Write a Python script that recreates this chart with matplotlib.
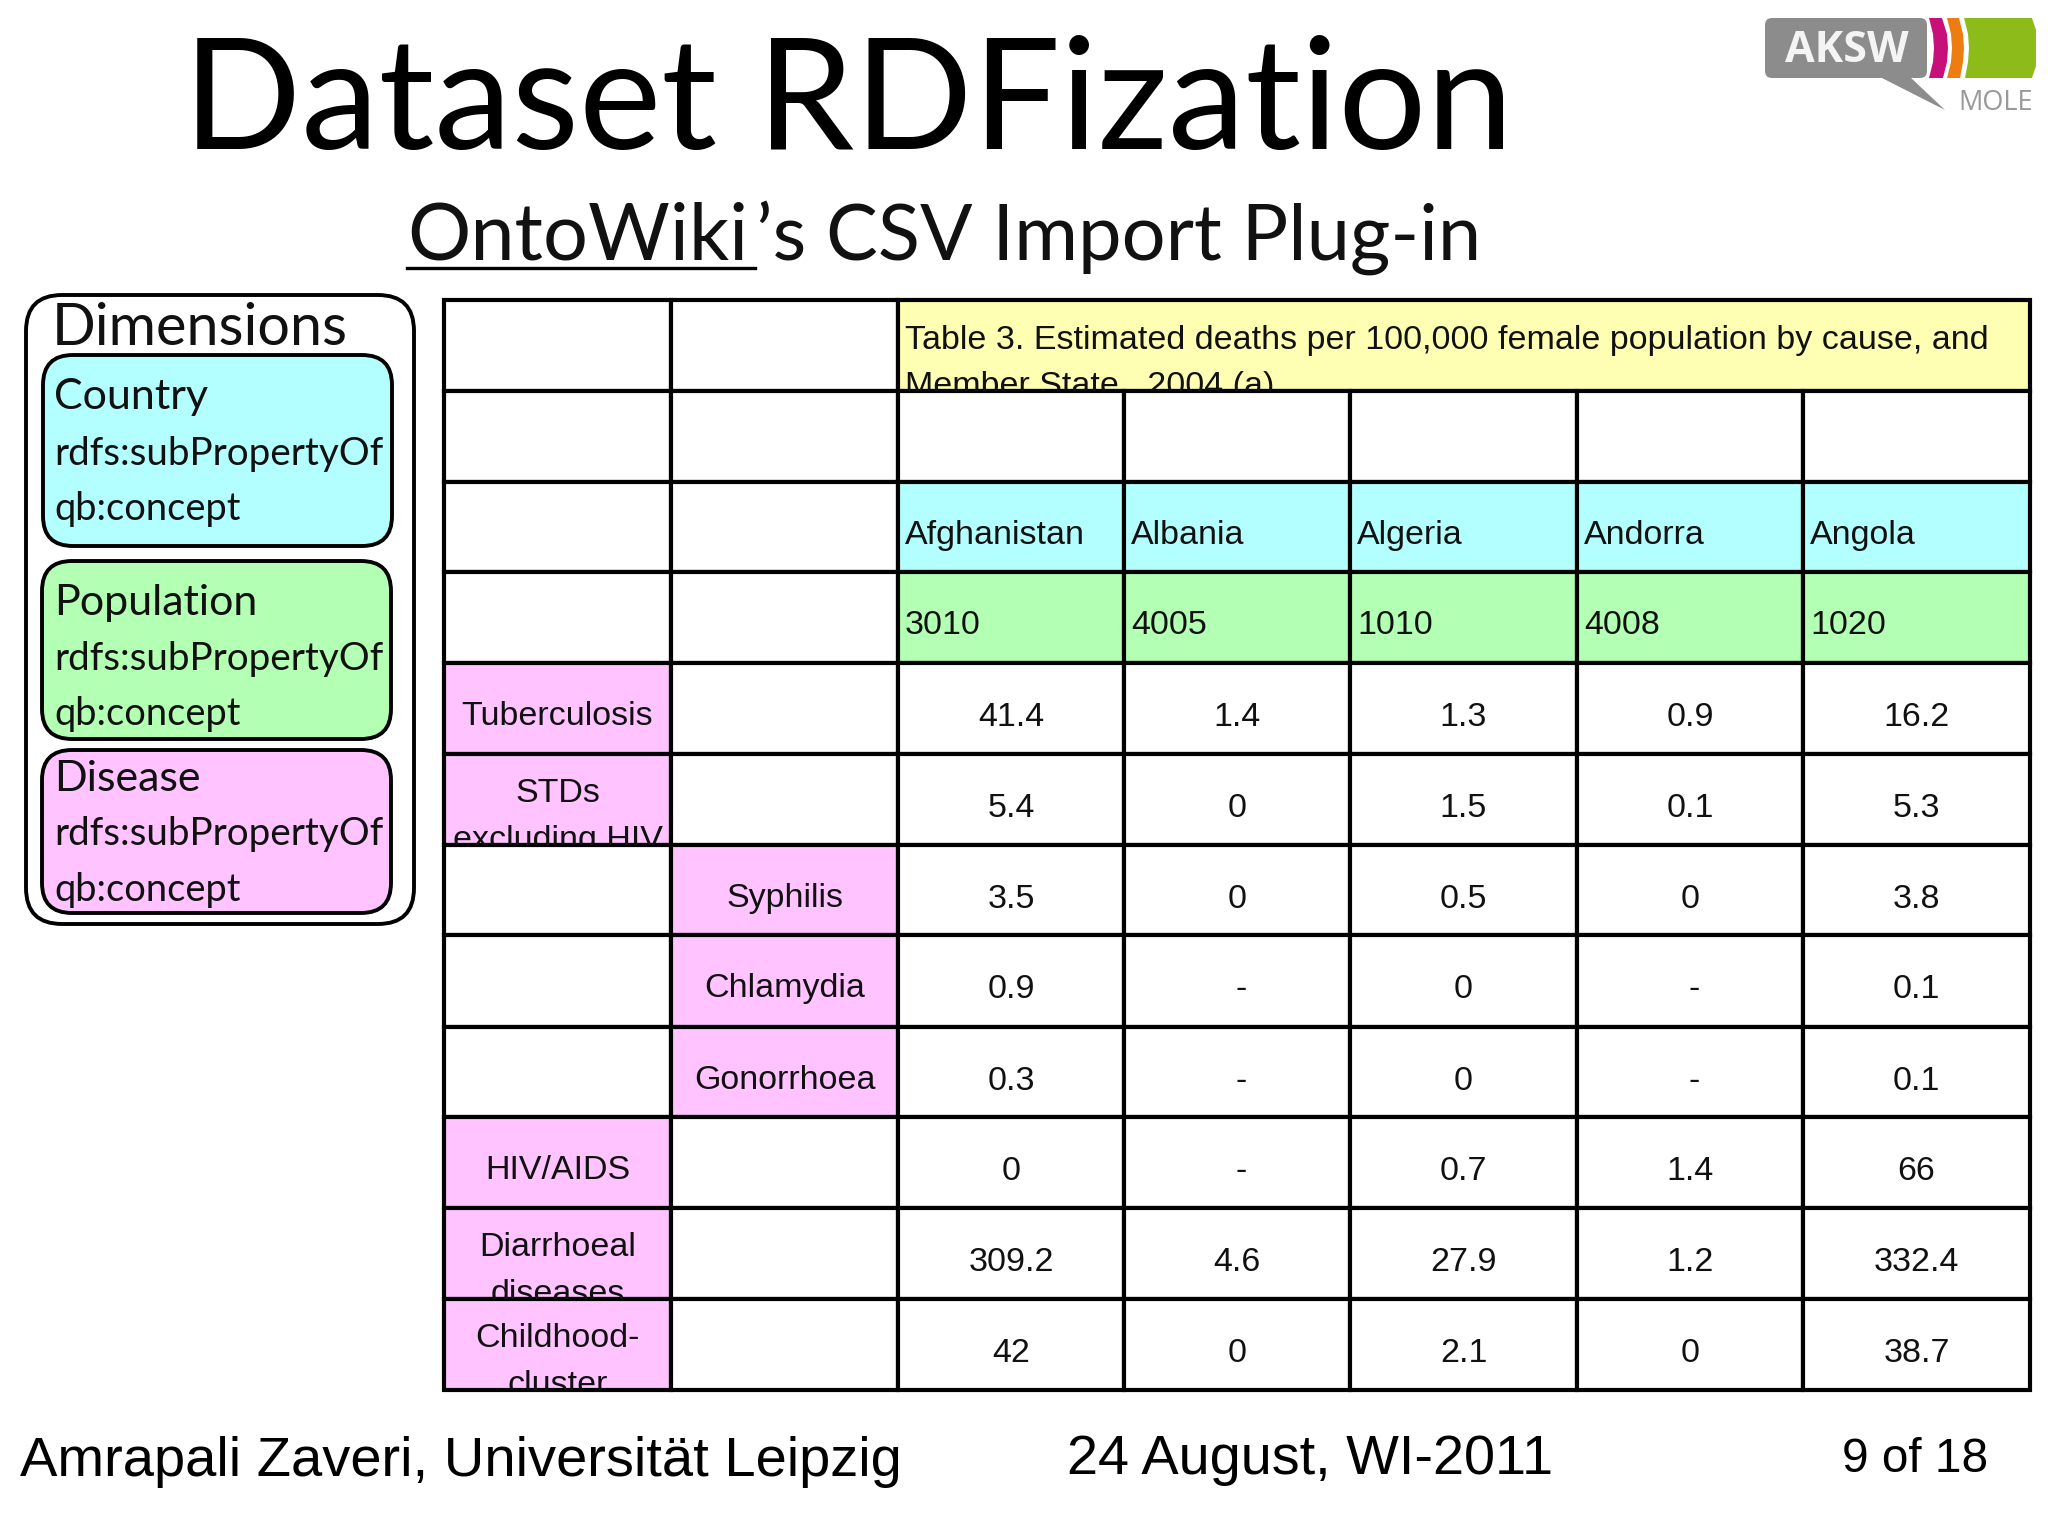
import matplotlib
matplotlib.use("Agg")
import matplotlib.pyplot as plt
from matplotlib.patches import FancyBboxPatch, Rectangle, Polygon
from matplotlib.transforms import Bbox, TransformedBbox

# -------------------------------------------------
# Table content
# -------------------------------------------------
table_title = ["Table 3. Estimated deaths per 100,000 female population by cause, and",
               "Member State , 2004 (a)"]
countries = ["Afghanistan", "Albania", "Algeria", "Andorra", "Angola"]
codes = ["3010", "4005", "1010", "4008", "1020"]

causes = ["Tuberculosis", "STDs\nexcluding HIV", "Syphilis", "Chlamydia", "Gonorrhoea",
          "HIV/AIDS", "Diarrhoeal\ndiseases", "Childhood-\ncluster"]
cause_col = [0, 0, 1, 1, 1, 0, 0, 0]

afghanistan = ["41.4", "5.4", "3.5", "0.9", "0.3", "0", "309.2", "42"]
albania = ["1.4", "0", "0", "-", "-", "-", "4.6", "0"]
algeria = ["1.3", "1.5", "0.5", "0", "0", "0.7", "27.9", "2.1"]
andorra = ["0.9", "0.1", "0", "-", "-", "1.4", "1.2", "0"]
angola = ["16.2", "5.3", "3.8", "0.1", "0.1", "66", "332.4", "38.7"]
values = [afghanistan, albania, algeria, andorra, angola]

dim_titles = ["Country", "Population", "Disease"]

# -------------------------------------------------
# Layout (pixels, y down)
# -------------------------------------------------
col_x = [444, 671, 898, 1124, 1350, 1577, 1803, 2030]
row_y = [300, 391, 482, 572, 663, 754, 845, 935, 1027, 1117, 1208, 1299, 1390]

CYAN = "#b3ffff"
GREEN = "#b3ffb3"
PINK = "#ffc4ff"
YELLOW = "#ffffb3"
GILL = "Lato"
ARIAL = "Liberation Sans"

fig = plt.figure(figsize=(20.48, 15.36), dpi=100)
ax = fig.add_axes([0, 0, 1, 1])
ax.set_xlim(0, 2048)
ax.set_ylim(1536, 0)
ax.axis("off")


def cell(c0, c1, r, color="white"):
    ax.add_patch(Rectangle((col_x[c0], row_y[r]), col_x[c1] - col_x[c0], row_y[r + 1] - row_y[r],
                           facecolor=color, edgecolor="black", linewidth=3.0, zorder=3))


def cell_text(s, c0, c1, r, y, x=None, ha="left", size=24.5):
    t = ax.text(col_x[c0] + 7 if x is None else x, y, s, ha=ha, va="baseline",
                family=ARIAL, fontsize=size, color="#111111", zorder=4)
    box = Bbox([[col_x[c0], row_y[r]], [col_x[c1], row_y[r + 1]]])
    t.set_clip_box(TransformedBbox(box, ax.transData))
    t.set_clip_on(True)
    return t


# -------------------------------------------------
# Title and footer
# -------------------------------------------------
ax.text(183, 149, "Dataset RDFization", family=GILL, fontsize=112, color="black", va="baseline")
ax.text(407, 260, "OntoWiki", family=GILL, fontsize=57, color="#111111", va="baseline")
ax.plot([407, 755], [268, 268], color="black", lw=2.4)
ax.text(756, 260, "’s CSV Import Plug-in", family=GILL, fontsize=55.9, color="#111111", va="baseline")

ax.text(20, 1476, "Amrapali Zaveri, Universität Leipzig", family=ARIAL, fontsize=40.4, va="baseline")
ax.text(1067, 1474, "24 August, WI-2011", family=ARIAL, fontsize=40.2, va="baseline")
ax.text(1842, 1472, "9 of 18", family=ARIAL, fontsize=34.4, va="baseline")

# -------------------------------------------------
# Dimensions panel
# -------------------------------------------------
def round_box(x0, y0, x1, y1, color, rad=32):
    ax.add_patch(FancyBboxPatch((x0 + rad, y0 + rad), x1 - x0 - 2 * rad, y1 - y0 - 2 * rad,
                                boxstyle="round,pad=%d,rounding_size=%d" % (rad, rad),
                                facecolor=color, edgecolor="black", linewidth=2.8))


round_box(26, 295, 414, 924, "white", 36)
ax.text(52, 345, "Dimensions", family=GILL, fontsize=41.5, va="baseline", color="#111111")

boxes = [(43, 355, 392, 546, CYAN), (42, 561, 391, 739, GREEN), (42, 750, 391, 913, PINK)]
baselines = [(409, 465, 520), (615, 670, 725), (791, 845, 901)]
for title, (x0, y0, x1, y1, color), (b0, b1, b2) in zip(dim_titles, boxes, baselines):
    round_box(x0, y0, x1, y1, color, 30)
    ax.text(54, b0, title, family=GILL, fontsize=31, va="baseline", color="#111111")
    ax.text(54, b1, "rdfs:subPropertyOf", family=GILL, fontsize=27.8, va="baseline", color="#111111")
    ax.text(54, b2, "qb:concept", family=GILL, fontsize=27.4, va="baseline", color="#111111")

# -------------------------------------------------
# Table
# -------------------------------------------------
cell(0, 1, 0)
cell(1, 2, 0)
cell(2, 7, 0, YELLOW)
for r in range(1, 4):
    cell(0, 1, r)
    cell(1, 2, r)
for c in range(5):
    cell(c + 2, c + 3, 1)
    cell(c + 2, c + 3, 2, CYAN)
    cell(c + 2, c + 3, 3, GREEN)
    cell_text(countries[c], c + 2, c + 3, 2, 544)
    cell_text(codes[c], c + 2, c + 3, 3, 634)

cell_text(table_title[0], 2, 7, 0, 349)
cell_text(table_title[1], 2, 7, 0, 395)

for i, name in enumerate(causes):
    r = i + 4
    col = cause_col[i]
    cell(0, 1, r, PINK if col == 0 else "white")
    cell(1, 2, r, PINK if col == 1 else "white")
    mid = (col_x[col] + col_x[col + 1]) / 2
    lines = name.split("\n")
    if len(lines) == 1:
        cell_text(name, col, col + 1, r, row_y[r] + 62, x=mid, ha="center")
    else:
        cell_text(lines[0], col, col + 1, r, row_y[r] + 48, x=mid, ha="center")
        cell_text(lines[1], col, col + 1, r, row_y[r] + 95, x=mid, ha="center")
    for c in range(5):
        cell(c + 2, c + 3, r)
        mid = (col_x[c + 2] + col_x[c + 3]) / 2
        dx = 4 if values[c][i] == "-" else 0
        cell_text(values[c][i], c + 2, c + 3, r, row_y[r] + 63, x=mid + dx, ha="center")

# -------------------------------------------------
# Logo
# -------------------------------------------------
ax.add_patch(FancyBboxPatch((1772, 25), 148, 46, boxstyle="round,pad=7,rounding_size=7",
                            facecolor="#8c8c8c", edgecolor="none"))
ax.add_patch(Polygon([(1880, 77), (1910, 77), (1945, 110)], closed=True, facecolor="#8c8c8c", edgecolor="none"))
ax.add_patch(Polygon([(1929, 18), (1942, 18), (1947, 34), (1948, 48), (1947, 62), (1943, 78), (1929, 78),
                      (1933, 62), (1934, 48), (1933, 34)],
                     closed=True, facecolor="#c8107a", edgecolor="none"))
ax.add_patch(Polygon([(1947, 18), (1959, 18), (1963, 34), (1964, 48), (1963, 62), (1960, 78), (1947, 78),
                      (1951, 62), (1952, 48), (1951, 34)],
                     closed=True, facecolor="#ee7d11", edgecolor="none"))
ax.add_patch(Polygon([(1964, 18), (2032, 18), (2036, 30), (2036, 66), (2032, 78), (1965, 78),
                      (1968, 62), (1969, 48), (1968, 34)],
                     closed=True, facecolor="#8dbb1a", edgecolor="none"))
ax.text(1785, 62, "AKSW", family="Open Sans", weight="bold", fontsize=31, color="#f4f4f4", va="baseline")
ax.text(1958, 110, "MOLE", family="Open Sans", fontsize=19.5, color="#999999", va="baseline")

plt.savefig("out.png", dpi=100)
